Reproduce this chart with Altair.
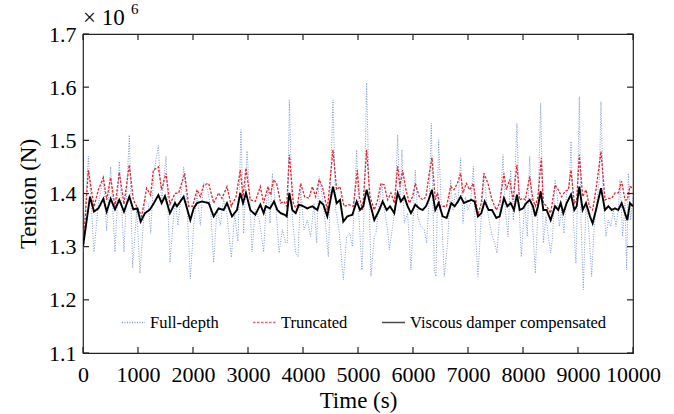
import altair as alt
import pandas as pd

# ---- data (tension in units of 1e6 N) ----
t_full = [0, 97, 200, 279, 370, 430, 503, 582, 660, 745, 842, 903, 976, 1036, 1127, 1188, 1230, 1290,
          1370, 1430, 1509, 1581, 1672, 1727, 1830, 1891, 1951, 2012, 2073, 2133, 2194, 2255, 2315, 2376,
          2436, 2497, 2557, 2618, 2697, 2758, 2818, 2872, 2921, 2982, 3024, 3073, 3133, 3206, 3285, 3321,
          3364, 3400, 3443, 3485, 3533, 3564, 3624, 3685, 3715, 3752, 3806, 3867, 3909, 3958, 4018, 4079,
          4139, 4200, 4248, 4291, 4352, 4412, 4461, 4545, 4594, 4655, 4733, 4794, 4854, 4897, 4976, 5011,
          5072, 5115, 5157, 5205, 5236, 5296, 5327, 5375, 5436, 5478, 5539, 5569, 5630, 5678, 5721, 5763,
          5799, 5842, 5902, 5963, 6042, 6084, 6145, 6205, 6248, 6296, 6333, 6387, 6417, 6466, 6520, 6569,
          6630, 6684, 6727, 6769, 6818, 6866, 6909, 6951, 6999, 7048, 7097, 7133, 7181, 7230, 7290, 7351,
          7394, 7442, 7484, 7527, 7575, 7636, 7678, 7727, 7775, 7824, 7890, 7927, 7969, 8030, 8078, 8121,
          8163, 8224, 8272, 8321, 8370, 8418, 8461, 8503, 8539, 8582, 8624, 8660, 8703, 8745, 8794, 8842,
          8873, 8915, 8963, 8988, 9024, 9054, 9097, 9145, 9188, 9248, 9291, 9339, 9388, 9418, 9460, 9509,
          9551, 9594, 9642, 9691, 9733, 9763, 9812, 9854, 9885, 9915, 9957, 10000]
v_full = [1.300, 1.470, 1.290, 1.380, 1.430, 1.330, 1.450, 1.290, 1.460, 1.290, 1.510, 1.260, 1.370, 1.250,
          1.390, 1.380, 1.325, 1.440, 1.490, 1.380, 1.470, 1.270, 1.390, 1.340, 1.450, 1.380, 1.240, 1.340,
          1.400, 1.340, 1.420, 1.410, 1.380, 1.270, 1.370, 1.340, 1.390, 1.360, 1.280, 1.360, 1.310, 1.520,
          1.325, 1.480, 1.410, 1.290, 1.370, 1.350, 1.290, 1.363, 1.413, 1.344, 1.438, 1.394, 1.338, 1.288,
          1.332, 1.307, 1.307, 1.576, 1.357, 1.288, 1.281, 1.407, 1.332, 1.350, 1.319, 1.382, 1.307, 1.432,
          1.394, 1.338, 1.281, 1.576, 1.369, 1.332, 1.238, 1.319, 1.325, 1.300, 1.482, 1.369, 1.256, 1.382,
          1.608, 1.382, 1.244, 1.319, 1.325, 1.376, 1.419, 1.369, 1.332, 1.294, 1.338, 1.382, 1.510, 1.382,
          1.482, 1.344, 1.363, 1.256, 1.444, 1.357, 1.338, 1.332, 1.307, 1.394, 1.532, 1.256, 1.244, 1.501,
          1.357, 1.244, 1.307, 1.426, 1.369, 1.401, 1.382, 1.467, 1.344, 1.394, 1.369, 1.382, 1.451, 1.332,
          1.244, 1.338, 1.438, 1.369, 1.344, 1.319, 1.307, 1.288, 1.357, 1.473, 1.369, 1.319, 1.444, 1.350,
          1.532, 1.382, 1.281, 1.382, 1.319, 1.470, 1.363, 1.250, 1.369, 1.570, 1.307, 1.357, 1.319, 1.288,
          1.319, 1.426, 1.394, 1.338, 1.369, 1.325, 1.401, 1.413, 1.498, 1.350, 1.269, 1.382, 1.582, 1.350,
          1.219, 1.382, 1.344, 1.244, 1.332, 1.382, 1.426, 1.573, 1.382, 1.319, 1.350, 1.338, 1.369, 1.338,
          1.369, 1.426, 1.319, 1.382, 1.256, 1.438, 1.350, 1.394]

t_trunc = [0, 97, 200, 279, 370, 430, 503, 582, 660, 745, 842, 915, 1006, 1067, 1157, 1230, 1279, 1370,
           1430, 1509, 1581, 1672, 1739, 1849, 1921, 1994, 2073, 2133, 2194, 2285, 2376, 2466, 2527, 2618,
           2697, 2782, 2860, 2909, 2963, 3042, 3133, 3224, 3285, 3364, 3412, 3461, 3521, 3594, 3655, 3703,
           3752, 3824, 3885, 3958, 4030, 4109, 4170, 4230, 4291, 4352, 4442, 4545, 4612, 4673, 4745, 4836,
           4915, 4988, 5024, 5084, 5157, 5218, 5296, 5357, 5418, 5478, 5539, 5599, 5660, 5721, 5763, 5811,
           5872, 5933, 5993, 6042, 6114, 6175, 6236, 6296, 6345, 6405, 6448, 6490, 6551, 6611, 6684, 6745,
           6806, 6866, 6909, 6969, 7030, 7097, 7181, 7242, 7290, 7363, 7436, 7515, 7575, 7654, 7697, 7757,
           7818, 7890, 7939, 7999, 8042, 8121, 8181, 8224, 8272, 8333, 8370, 8430, 8503, 8582, 8642, 8703,
           8764, 8824, 8873, 8933, 8976, 9024, 9085, 9145, 9206, 9266, 9327, 9418, 9491, 9551, 9612, 9673,
           9733, 9794, 9854, 9897, 9945, 10000]
v_trunc = [1.290, 1.444, 1.375, 1.407, 1.430, 1.388, 1.430, 1.375, 1.440, 1.380, 1.454, 1.388, 1.370, 1.357,
           1.410, 1.397, 1.444, 1.450, 1.407, 1.438, 1.380, 1.400, 1.401, 1.438, 1.376, 1.376, 1.407, 1.394,
           1.416, 1.419, 1.382, 1.401, 1.391, 1.413, 1.376, 1.394, 1.444, 1.394, 1.448, 1.388, 1.385, 1.413,
           1.382, 1.413, 1.397, 1.426, 1.419, 1.382, 1.385, 1.376, 1.473, 1.382, 1.369, 1.419, 1.394, 1.391,
           1.413, 1.394, 1.426, 1.413, 1.369, 1.482, 1.407, 1.413, 1.376, 1.379, 1.376, 1.444, 1.394, 1.369,
           1.482, 1.394, 1.369, 1.388, 1.419, 1.416, 1.388, 1.401, 1.382, 1.451, 1.413, 1.444, 1.407, 1.382,
           1.394, 1.419, 1.394, 1.388, 1.394, 1.438, 1.467, 1.388, 1.401, 1.376, 1.376, 1.376, 1.413, 1.407,
           1.419, 1.438, 1.401, 1.419, 1.407, 1.419, 1.360, 1.382, 1.438, 1.419, 1.388, 1.369, 1.382, 1.438,
           1.407, 1.426, 1.388, 1.454, 1.388, 1.391, 1.388, 1.432, 1.388, 1.376, 1.394, 1.467, 1.382, 1.376,
           1.363, 1.416, 1.407, 1.394, 1.404, 1.407, 1.444, 1.382, 1.388, 1.473, 1.394, 1.407, 1.376, 1.369,
           1.407, 1.479, 1.388, 1.391, 1.391, 1.401, 1.401, 1.423, 1.388, 1.388, 1.413, 1.410]

t_visc = [0, 127, 200, 279, 370, 430, 503, 582, 660, 745, 842, 915, 988, 1048, 1127, 1218, 1290, 1370,
          1430, 1491, 1581, 1672, 1709, 1830, 1951, 2012, 2073, 2164, 2285, 2376, 2466, 2557, 2618, 2709,
          2800, 2860, 2909, 2963, 3042, 3133, 3224, 3285, 3321, 3400, 3473, 3533, 3594, 3667, 3703, 3752,
          3806, 3867, 3927, 4006, 4079, 4170, 4261, 4309, 4370, 4442, 4545, 4612, 4673, 4733, 4806, 4897,
          4976, 5036, 5096, 5157, 5218, 5296, 5387, 5448, 5521, 5581, 5660, 5721, 5781, 5842, 5902, 5963,
          6042, 6114, 6175, 6236, 6284, 6345, 6405, 6466, 6539, 6611, 6697, 6757, 6818, 6866, 6927, 6987,
          7060, 7121, 7181, 7242, 7303, 7375, 7436, 7515, 7575, 7654, 7715, 7775, 7836, 7890, 7939, 7999,
          8060, 8121, 8181, 8224, 8272, 8321, 8370, 8430, 8503, 8582, 8642, 8685, 8733, 8794, 8873, 8933,
          8976, 9024, 9085, 9145, 9218, 9266, 9327, 9418, 9491, 9551, 9612, 9673, 9733, 9794, 9854, 9897,
          9945, 10000]
v_visc = [1.300, 1.394, 1.366, 1.372, 1.390, 1.366, 1.390, 1.370, 1.388, 1.366, 1.394, 1.370, 1.372, 1.347,
          1.363, 1.370, 1.382, 1.397, 1.382, 1.395, 1.363, 1.382, 1.376, 1.394, 1.350, 1.372, 1.382, 1.385,
          1.382, 1.357, 1.372, 1.369, 1.382, 1.357, 1.369, 1.401, 1.382, 1.401, 1.369, 1.360, 1.379, 1.363,
          1.376, 1.372, 1.385, 1.369, 1.363, 1.360, 1.357, 1.401, 1.369, 1.363, 1.379, 1.376, 1.372, 1.376,
          1.369, 1.385, 1.379, 1.357, 1.413, 1.382, 1.388, 1.347, 1.357, 1.360, 1.385, 1.369, 1.376, 1.407,
          1.382, 1.350, 1.369, 1.385, 1.369, 1.376, 1.363, 1.401, 1.385, 1.394, 1.376, 1.363, 1.379, 1.372,
          1.369, 1.376, 1.388, 1.407, 1.369, 1.382, 1.357, 1.354, 1.382, 1.376, 1.385, 1.394, 1.382, 1.385,
          1.388, 1.385, 1.357, 1.363, 1.385, 1.369, 1.369, 1.354, 1.357, 1.391, 1.376, 1.382, 1.369, 1.398,
          1.369, 1.372, 1.382, 1.388, 1.376, 1.357, 1.376, 1.404, 1.369, 1.369, 1.350, 1.376, 1.369, 1.382,
          1.363, 1.382, 1.398, 1.369, 1.376, 1.413, 1.369, 1.382, 1.357, 1.344, 1.369, 1.410, 1.369, 1.376,
          1.369, 1.372, 1.369, 1.382, 1.363, 1.350, 1.382, 1.376]

series_names = ["Full-depth", "Truncated", "Viscous damper compensated"]
x_ticks = [0, 1000, 2000, 3000, 4000, 5000, 6000, 7000, 8000, 9000, 10000]
y_ticks = [1.1, 1.2, 1.3, 1.4, 1.5, 1.6, 1.7]

# ---- build table ----
df = pd.concat([
    pd.DataFrame({"t": t_full, "v": v_full, "series": series_names[0]}),
    pd.DataFrame({"t": t_trunc, "v": v_trunc, "series": series_names[1]}),
    pd.DataFrame({"t": t_visc, "v": v_visc, "series": series_names[2]}),
], ignore_index=True)

W, H = 550, 319
FONT = "Liberation Serif"
colors = ["#4a70c8", "#e8232b", "#000000"]
dashes = [[1, 1.5], [2.5, 1.5], [1, 0]]
widths = [1.0, 1.3, 1.9]
opac = [0.7, 1.0, 1.0]

leg = alt.Legend(title=None, orient="none", legendX=38, legendY=276, direction="horizontal",
                 symbolType="stroke", symbolSize=529, symbolStrokeWidth=1.6,
                 labelFont=FONT, labelFontSize=16.5, labelColor="#000", labelOffset=4,
                 labelLimit=0, columnPadding=30, padding=0)

xenc = alt.X("t:Q", scale=alt.Scale(domain=[0, 10000], nice=False),
             axis=alt.Axis(values=x_ticks, title="Time (s)", format="d",
                           labelOverlap=False, labelFlush=False, labelBound=False))
yenc = alt.Y("v:Q", scale=alt.Scale(domain=[1.1, 1.7], nice=False, zero=False),
             axis=alt.Axis(values=y_ticks, title="Tension (N)", format=".1f",
                           labelOverlap=False, labelFlush=False, labelBound=False))
cenc = alt.Color("series:N", scale=alt.Scale(domain=series_names, range=colors), legend=leg)
denc = alt.StrokeDash("series:N", scale=alt.Scale(domain=series_names, range=dashes), legend=leg)

lines = []
for i, name in enumerate(series_names):
    lines.append(
        alt.Chart(df).transform_filter(alt.datum.series == name)
        .mark_line(strokeWidth=widths[i], opacity=opac[i], clip=True)
        .encode(x=xenc, y=yenc, color=cenc, strokeDash=denc, order="t:Q")
    )

# inward ticks on all four sides
xt = pd.DataFrame({"t": x_ticks})
yt = pd.DataFrame({"v": y_ticks})
tick_col = "#222"
bx = alt.Chart(xt).mark_rule(color=tick_col, strokeWidth=1.2).encode(
    x="t:Q", y=alt.value(H), y2=alt.value(H - 6))
tx = alt.Chart(xt).mark_rule(color=tick_col, strokeWidth=1.2).encode(
    x="t:Q", y=alt.value(0), y2=alt.value(6))
ly = alt.Chart(yt).mark_rule(color=tick_col, strokeWidth=1.2).encode(
    y="v:Q", x=alt.value(0), x2=alt.value(6))
ry = alt.Chart(yt).mark_rule(color=tick_col, strokeWidth=1.2).encode(
    y="v:Q", x=alt.value(W), x2=alt.value(W - 6))

mult = alt.Chart(pd.DataFrame({"s": ["× 10"]})).mark_text(
    font=FONT, fontSize=23, align="left", baseline="middle", color="#000").encode(
    text="s:N", x=alt.value(0), y=alt.value(-16))
expo = alt.Chart(pd.DataFrame({"s": ["6"]})).mark_text(
    font=FONT, fontSize=15, align="left", baseline="middle", color="#000").encode(
    text="s:N", x=alt.value(48), y=alt.value(-25))

chart = alt.layer(*lines, bx, tx, ly, ry, mult, expo).properties(
    width=W, height=H,
    autosize=alt.AutoSizeParams(type="none"),
    padding={"left": 83, "top": 34, "right": 41, "bottom": 61},
    background="white",
).configure_view(stroke="#222", strokeWidth=1.2).configure_axis(
    labelFont=FONT, labelFontSize=22, labelColor="#000",
    titleFont=FONT, titleFontSize=23, titleFontWeight="normal", titleColor="#000",
    ticks=False, domain=False, grid=False,
).configure_axisX(labelPadding=11, titlePadding=4).configure_axisY(labelPadding=7, titlePadding=8)

chart.save("out.html", embed_options={"renderer": "svg", "actions": False})
